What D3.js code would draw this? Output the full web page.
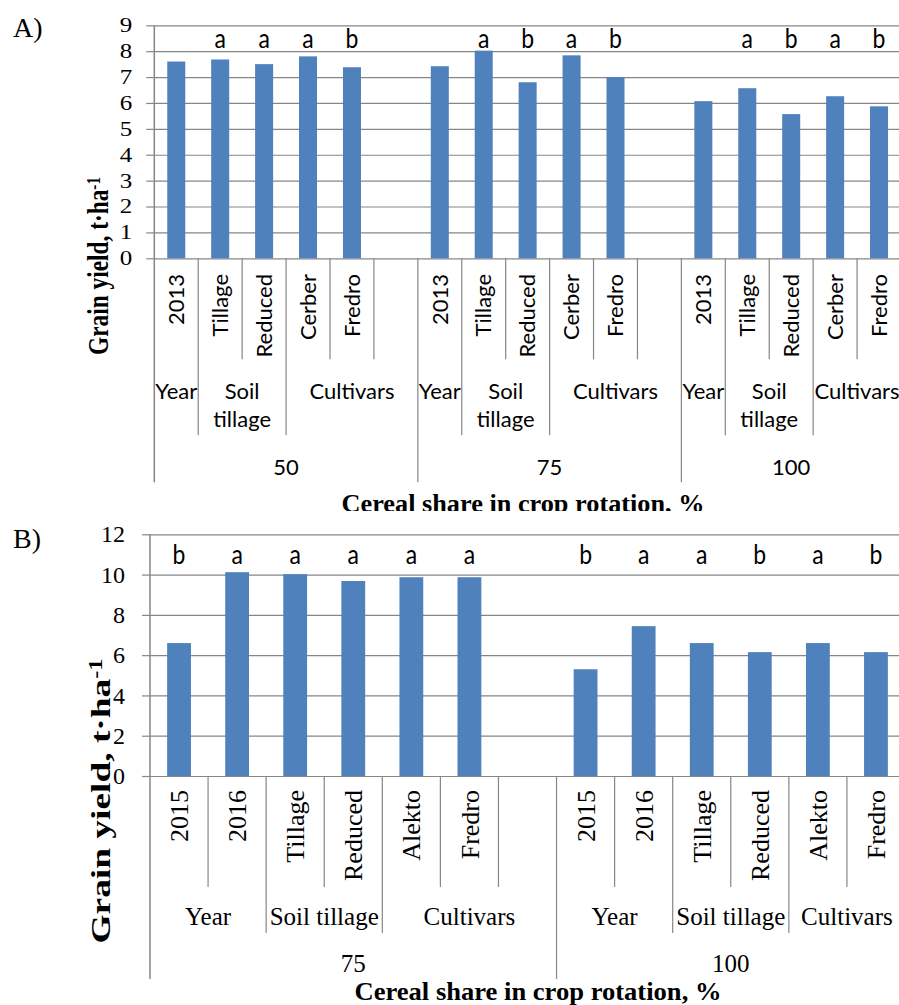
<!DOCTYPE html>
<html>
<head>
<meta charset="utf-8">
<script src="https://cdn.jsdelivr.net/npm/d3@7"></script>
<style>
body { margin: 0; background: #fff; }
svg { display: block; }
</style>
</head>
<body>
<script>
// ---- panel A data ----
var aShare  = ["50","50","50","50","50","50", "75","75","75","75","75","75", "100","100","100","100","100"];
var aFactor = ["Year","Soil tillage","Soil tillage","Cultivars","Cultivars","Cultivars",
               "Year","Soil tillage","Soil tillage","Cultivars","Cultivars","Cultivars",
               "Year","Soil tillage","Soil tillage","Cultivars","Cultivars"];
var aLabel  = ["2013","Tillage","Reduced","Cerber","Fredro","",
               "2013","Tillage","Reduced","Cerber","Fredro","",
               "2013","Tillage","Reduced","Cerber","Fredro"];
var aYield  = [7.6, 7.68, 7.5, 7.8, 7.38, null,
               7.42, 8.02, 6.8, 7.84, 7.0, null,
               6.07, 6.57, 5.57, 6.26, 5.87];
var aLetter = ["","a","a","a","b","", "","a","b","a","b","", "","a","b","a","b"];
var aTicks  = [0,1,2,3,4,5,6,7,8,9];

// ---- panel B data ----
var bShare  = ["75","75","75","75","75","75","75", "100","100","100","100","100","100"];
var bFactor = ["Year","Year","Soil tillage","Soil tillage","Cultivars","Cultivars","Cultivars",
               "Year","Year","Soil tillage","Soil tillage","Cultivars","Cultivars"];
var bLabel  = ["2015","2016","Tillage","Reduced","Alekto","Fredro","",
               "2015","2016","Tillage","Reduced","Alekto","Fredro"];
var bYield  = [6.6, 10.12, 10.02, 9.68, 9.87, 9.87, null,
               5.3, 7.44, 6.6, 6.15, 6.6, 6.15];
var bLetter = ["b","a","a","a","a","a","", "b","a","a","b","a","b"];
var bTicks  = [0,2,4,6,8,10,12];

var W = 899, H = 1005;
var SERIF = "'Liberation Serif','Times New Roman',serif";
var SANS = "Lato,'Open Sans',sans-serif";
var GRAY = "#868686";
var BLUE = "#4F81BD";

var svg = d3.select("body").append("svg")
	.attr("width", W).attr("height", H)
	.style("background", "#fff");

svg.append("defs").append("clipPath").attr("id", "clipA")
	.append("rect").attr("x", 0).attr("y", 0).attr("width", W).attr("height", 511);

// runs of equal keys -> [start, end)
function runs(keys) {
	var out = [], s = 0;
	for (var i = 1; i <= keys.length; i++) {
		if (i == keys.length || keys[i] != keys[s]) { out.push([s, i]); s = i; }
	}
	return out;
}

function panel(g, o) {
	var n = o.label.length;
	var x = d3.scaleBand().domain(d3.range(n))
		.range([o.left, o.right]).paddingInner(0.59).paddingOuter(0.295);
	var y = d3.scaleLinear().domain([0, o.max]).range([o.bottom, o.top]);
	var step = x.step();
	function edge(i) { return o.left + i * step; }

	// gridlines
	var grid = g.append("g").attr("transform", "translate(" + o.left + ",0)")
		.call(d3.axisLeft(y).tickValues(o.ticks).tickSize(-(o.right - o.left)).tickFormat(""));
	grid.select(".domain").remove();
	grid.selectAll("line").attr("stroke", GRAY).attr("stroke-width", 1.2);

	// y axis ticks + labels
	var ax = g.append("g").attr("transform", "translate(" + o.left + ",0)")
		.call(d3.axisLeft(y).tickValues(o.ticks).tickSizeInner(8).tickSizeOuter(0).tickPadding(o.pad));
	ax.select(".domain").remove();
	ax.selectAll("line").attr("stroke", GRAY).attr("stroke-width", 1.2);
	ax.selectAll("text")
		.attr("fill", "#000")
		.style("font-family", SERIF)
		.style("font-size", o.tickFont + "px")
		.attr("transform", "scale(1," + o.tickScale + ")");

	// left axis line, runs down through the category levels
	g.append("line")
		.attr("x1", o.left).attr("x2", o.left)
		.attr("y1", o.top).attr("y2", o.bottom + o.depth[2])
		.attr("stroke", GRAY).attr("stroke-width", 1.5);

	// bars
	var idx = d3.range(n).filter(function(i) { return o.value[i] != null; });
	g.selectAll("rect.bar").data(idx).enter().append("rect")
		.attr("class", "bar")
		.attr("x", function(i) { return x(i); })
		.attr("y", function(i) { return y(o.value[i]); })
		.attr("width", x.bandwidth())
		.attr("height", function(i) { return y(0) - y(o.value[i]); })
		.attr("fill", BLUE);

	// significance letters (slightly stretched upward like the source)
	g.selectAll("text.sig").data(idx).enter().append("text")
		.attr("class", "sig")
		.attr("transform", function(i) {
			return "translate(" + (x(i) + x.bandwidth() / 2) + "," + o.letterY + ") scale(1,1.2)";
		})
		.attr("text-anchor", "middle")
		.style("font-family", SANS)
		.style("font-size", "23px")
		.text(function(i) { return o.letter[i]; });

	// separators between categories
	for (var i = 1; i < n; i++) {
		var lvl = o.share[i] != o.share[i - 1] ? 2 : (o.factor[i] != o.factor[i - 1] ? 1 : 0);
		g.append("line")
			.attr("x1", edge(i)).attr("x2", edge(i))
			.attr("y1", o.bottom).attr("y2", o.bottom + o.depth[lvl])
			.attr("stroke", GRAY).attr("stroke-width", 1.2);
	}

	// level 1 labels (rotated)
	g.selectAll("text.l1").data(d3.range(n)).enter().append("text")
		.attr("class", "l1")
		.attr("transform", function(i) {
			return "translate(" + (x(i) + x.bandwidth() / 2) + "," + o.l1Top + ") rotate(-90)";
		})
		.attr("dy", "0.35em")
		.attr("text-anchor", "end")
		.style("font-family", o.l1Family)
		.style("font-size", o.l1Font + "px")
		.text(function(i) { return o.label[i]; });

	// level 2 labels
	var keys2 = d3.range(n).map(function(i) { return o.share[i] + "|" + o.factor[i]; });
	runs(keys2).forEach(function(r) {
		var cx = (edge(r[0]) + edge(r[1])) / 2;
		var name = o.factor[r[0]];
		var lines = o.wrap ? name.split(" ") : [name];
		var t = g.append("text")
			.attr("text-anchor", "middle")
			.style("font-family", o.l2Family)
			.style("font-size", o.l2Font + "px");
		lines.forEach(function(s, k) {
			t.append("tspan").attr("x", cx).attr("y", o.l2Y + k * 28).text(s);
		});
	});

	// level 3 labels
	runs(o.share).forEach(function(r) {
		g.append("text")
			.attr("x", (edge(r[0]) + edge(r[1])) / 2)
			.attr("y", o.l3Y)
			.attr("text-anchor", "middle")
			.style("font-family", o.l2Family)
			.style("font-size", o.l2Font + "px")
			.text(o.share[r[0]]);
	});

	// axis titles
	var yt = g.append("text")
		.attr("transform", "translate(" + o.yTitleX + "," + o.yTitleY + ") rotate(-90)")
		.attr("dy", "0.35em")
		.attr("text-anchor", "middle")
		.attr("textLength", o.yTitleLen)
		.attr("lengthAdjust", "spacingAndGlyphs")
		.style("font-family", SERIF)
		.style("font-weight", "bold")
		.style("font-size", o.yTitleFont + "px");
	yt.append("tspan").text("Grain yield,  t\u00B7ha");
	yt.append("tspan").attr("dy", "-0.45em").style("font-size", "0.65em").text("-1");

	g.append("text")
		.attr("x", o.xTitleX).attr("y", o.xTitleY)
		.attr("text-anchor", "middle")
		.attr("textLength", o.xTitleLen)
		.attr("lengthAdjust", "spacingAndGlyphs")
		.style("font-family", SERIF)
		.style("font-weight", "bold")
		.style("font-size", o.xTitleFont + "px")
		.text("Cereal share in  crop rotation, %");

	g.append("text")
		.attr("x", 13).attr("y", o.tagY)
		.style("font-family", SERIF)
		.style("font-size", "28px")
		.text(o.tag);
}

panel(svg.append("g").attr("clip-path", "url(#clipA)"), {
	share: aShare, factor: aFactor, label: aLabel, value: aYield, letter: aLetter, ticks: aTicks,
	max: 9, left: 154.3, right: 901, top: 25.3, bottom: 258.3,
	pad: 14, tickFont: 25, tickScale: 0.8,
	depth: [101, 177, 224],
	letterY: 48,
	l1Top: 274, l1Family: SANS, l1Font: 22,
	l2Y: 399, l3Y: 474.5, l2Family: SANS, l2Font: 22, wrap: true,
	yTitleX: 98, yTitleY: 266, yTitleLen: 178, yTitleFont: 29,
	xTitleX: 523, xTitleY: 512, xTitleLen: 363, xTitleFont: 25,
	tag: "A)", tagY: 37
});

panel(svg.append("g"), {
	share: bShare, factor: bFactor, label: bLabel, value: bYield, letter: bLetter, ticks: bTicks,
	max: 12, left: 150, right: 905, top: 534.3, bottom: 776,
	pad: 17, tickFont: 24, tickScale: 1,
	depth: [111, 157, 203],
	letterY: 564,
	l1Top: 790, l1Family: SERIF, l1Font: 26,
	l2Y: 925, l3Y: 971.5, l2Family: SERIF, l2Font: 25, wrap: false,
	yTitleX: 100, yTitleY: 801, yTitleLen: 285, yTitleFont: 28,
	xTitleX: 538, xTitleY: 1000, xTitleLen: 367, xTitleFont: 25,
	tag: "B)", tagY: 548
});
</script>
</body>
</html>
